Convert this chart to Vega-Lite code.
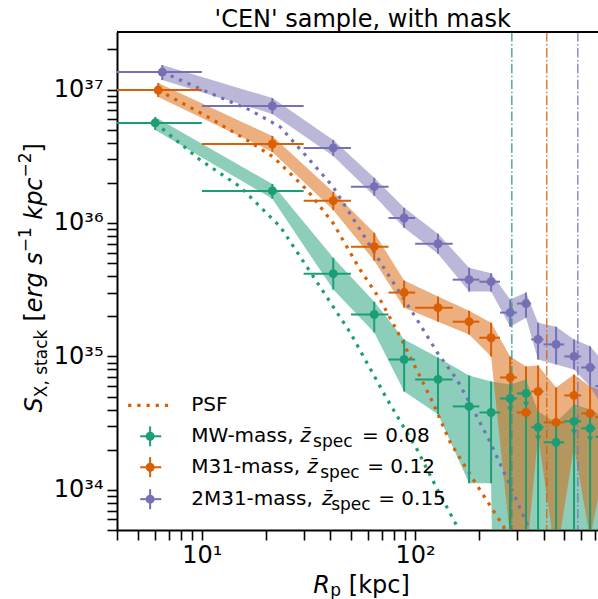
{
  "$schema": "https://vega.github.io/schema/vega-lite/v6.json",
  "width": 481,
  "height": 498,
  "autosize": {"type": "none"},
  "padding": {"left": 117, "top": 32, "right": 0, "bottom": 69},
  "background": "white",
  "config": {
    "view": {"stroke": null},
    "font": "DejaVu Sans",
    "axis": {"grid": false, "domainColor": "black", "tickColor": "black", "domainWidth": 2, "tickWidth": 1.6, "tickSize": 10, "labelFontSize": 24, "labelFont": "DejaVu Sans", "labelColor": "black", "labelOverlap": false, "title": null}
  },
  "datasets": {
    "prof": [
      {"s": "2M31-mass", "x": 6.52, "xlo": 1, "xhi": 10, "y": 1.352e37, "lo": 1.178e37, "hi": 1.525e37, "ul": false},
      {"s": "2M31-mass", "x": 21.4, "xlo": 10, "xhi": 30, "y": 7.53e36, "lo": 6.56e36, "hi": 8.64e36, "ul": false},
      {"s": "2M31-mass", "x": 41.3, "xlo": 30, "xhi": 50, "y": 3.65e36, "lo": 3.18e36, "hi": 4.19e36, "ul": false},
      {"s": "2M31-mass", "x": 64.3, "xlo": 50, "xhi": 75, "y": 1.87e36, "lo": 1.60e36, "hi": 2.18e36, "ul": false},
      {"s": "2M31-mass", "x": 88.8, "xlo": 75, "xhi": 100, "y": 1.09e36, "lo": 9.21e35, "hi": 1.30e36, "ul": false},
      {"s": "2M31-mass", "x": 128, "xlo": 100, "xhi": 150, "y": 6.99e35, "lo": 5.88e35, "hi": 8.30e35, "ul": false},
      {"s": "2M31-mass", "x": 179, "xlo": 150, "xhi": 200, "y": 3.76e35, "lo": 3.06e35, "hi": 4.62e35, "ul": false},
      {"s": "2M31-mass", "x": 227, "xlo": 200, "xhi": 250, "y": 3.63e35, "lo": 3.06e35, "hi": 4.2e35, "ul": false},
      {"s": "2M31-mass", "x": 279, "xlo": 250, "xhi": 300, "y": 2.13e35, "lo": 1.67e35, "hi": 2.67e35, "ul": false},
      {"s": "2M31-mass", "x": 331, "xlo": 300, "xhi": 350, "y": 2.49e35, "lo": 1.95e35, "hi": 3.01e35, "ul": false},
      {"s": "2M31-mass", "x": 377, "xlo": 350, "xhi": 400, "y": 1.34e35, "lo": 9.48e34, "hi": 1.79e35, "ul": false},
      {"s": "2M31-mass", "x": 458, "xlo": 400, "xhi": 500, "y": 1.23e35, "lo": 8.70e34, "hi": 1.67e35, "ul": false},
      {"s": "2M31-mass", "x": 556, "xlo": 500, "xhi": 600, "y": 1.0e35, "lo": 7.98e34, "hi": 1.34e35, "ul": false},
      {"s": "2M31-mass", "x": 661, "xlo": 600, "xhi": 700, "y": 8.26e34, "lo": 5.96e34, "hi": 1.19e35, "ul": false},
      {"s": "2M31-mass", "x": 770, "xlo": 700, "xhi": 800, "y": 6.0e34, "lo": 4.0e34, "hi": 9.0e34, "ul": false},
      {"s": "M31-mass", "x": 6.24, "xlo": 1, "xhi": 10, "y": 9.91e36, "lo": 8.79e36, "hi": 1.118e37, "ul": false},
      {"s": "M31-mass", "x": 21.4, "xlo": 10, "xhi": 30, "y": 3.91e36, "lo": 3.41e36, "hi": 4.49e36, "ul": false},
      {"s": "M31-mass", "x": 41.3, "xlo": 30, "xhi": 50, "y": 1.47e36, "lo": 1.25e36, "hi": 1.71e36, "ul": false},
      {"s": "M31-mass", "x": 64.3, "xlo": 50, "xhi": 75, "y": 6.64e35, "lo": 5.22e35, "hi": 8.45e35, "ul": false},
      {"s": "M31-mass", "x": 88.8, "xlo": 75, "xhi": 100, "y": 3.01e35, "lo": 2.32e35, "hi": 3.70e35, "ul": false},
      {"s": "M31-mass", "x": 128, "xlo": 100, "xhi": 150, "y": 2.32e35, "lo": 1.82e35, "hi": 2.81e35, "ul": false},
      {"s": "M31-mass", "x": 179, "xlo": 150, "xhi": 200, "y": 1.82e35, "lo": 1.46e35, "hi": 2.20e35, "ul": false},
      {"s": "M31-mass", "x": 227, "xlo": 200, "xhi": 250, "y": 1.38e35, "lo": 9.98e34, "hi": 1.79e35, "ul": false},
      {"s": "M31-mass", "x": 279, "xlo": 250, "xhi": 300, "y": 6.95e34, "lo": 4.3e33, "hi": 9.98e34, "ul": false},
      {"s": "M31-mass", "x": 331, "xlo": 300, "xhi": 350, "y": 3.80e34, "lo": 3.0e33, "hi": 8.41e34, "ul": false},
      {"s": "M31-mass", "x": 377, "xlo": 350, "xhi": 400, "y": 5.46e34, "lo": 2.52e34, "hi": 8.55e34, "ul": false},
      {"s": "M31-mass", "x": 458, "xlo": 400, "xhi": 500, "y": 3.20e34, "lo": 3.0e33, "hi": 5.85e34, "ul": false},
      {"s": "M31-mass", "x": 556, "xlo": 500, "xhi": 600, "y": 5.10e34, "lo": 2.12e34, "hi": 7.32e34, "ul": false},
      {"s": "M31-mass", "x": 661, "xlo": 600, "xhi": 700, "y": 3.74e34, "lo": 4.3e33, "hi": 5.96e34, "ul": false},
      {"s": "M31-mass", "x": 770, "xlo": 700, "xhi": 800, "y": 3.5e34, "lo": 1.5e34, "hi": 5.5e34, "ul": false},
      {"s": "MW-mass", "x": 6.04, "xlo": 1, "xhi": 10, "y": 5.62e36, "lo": 4.98e36, "hi": 6.23e36, "ul": false},
      {"s": "MW-mass", "x": 21.4, "xlo": 10, "xhi": 30, "y": 1.74e36, "lo": 1.52e36, "hi": 1.96e36, "ul": false},
      {"s": "MW-mass", "x": 41.3, "xlo": 30, "xhi": 50, "y": 4.17e35, "lo": 3.17e35, "hi": 5.49e35, "ul": false},
      {"s": "MW-mass", "x": 64.3, "xlo": 50, "xhi": 75, "y": 2.06e35, "lo": 1.51e35, "hi": 2.57e35, "ul": false},
      {"s": "MW-mass", "x": 88.8, "xlo": 75, "xhi": 100, "y": 9.48e34, "lo": 5.46e34, "hi": 1.34e35, "ul": false},
      {"s": "MW-mass", "x": 128, "xlo": 100, "xhi": 150, "y": 6.72e34, "lo": 3.68e34, "hi": 9.81e34, "ul": false},
      {"s": "MW-mass", "x": 179, "xlo": 150, "xhi": 200, "y": 4.22e34, "lo": 1.12e34, "hi": 7.20e34, "ul": false},
      {"s": "MW-mass", "x": 227, "xlo": 200, "xhi": 250, "y": 3.80e34, "lo": 1.12e34, "hi": 6.49e34, "ul": false},
      {"s": "MW-mass", "x": 279, "xlo": 250, "xhi": 300, "y": 4.84e34, "lo": 1e25, "hi": 6.16e34, "ul": true},
      {"s": "MW-mass", "x": 331, "xlo": 300, "xhi": 350, "y": 5.28e34, "lo": 1e25, "hi": 6.72e34, "ul": true},
      {"s": "MW-mass", "x": 377, "xlo": 350, "xhi": 400, "y": 2.94e34, "lo": 1e25, "hi": 3.87e34, "ul": true},
      {"s": "MW-mass", "x": 458, "xlo": 400, "xhi": 500, "y": 2.27e34, "lo": 1e25, "hi": 3.20e34, "ul": false},
      {"s": "MW-mass", "x": 556, "xlo": 500, "xhi": 600, "y": 3.26e34, "lo": 1e25, "hi": 4.37e34, "ul": true},
      {"s": "MW-mass", "x": 661, "xlo": 600, "xhi": 700, "y": 2.89e34, "lo": 1e25, "hi": 4.01e34, "ul": true},
      {"s": "MW-mass", "x": 770, "xlo": 700, "xhi": 800, "y": 2.5e34, "lo": 1e25, "hi": 3.5e34, "ul": false}
    ],
    "psf": [
      {"s": "MW-mass", "x": 6.04, "y": 5.62e36},
      {"s": "MW-mass", "x": 9.82, "y": 2.97e36},
      {"s": "MW-mass", "x": 15.1, "y": 1.87e36},
      {"s": "MW-mass", "x": 23.3, "y": 9.4e35},
      {"s": "MW-mass", "x": 32.2, "y": 4.31e35},
      {"s": "MW-mass", "x": 49.6, "y": 1.51e35},
      {"s": "MW-mass", "x": 73.9, "y": 4.77e34},
      {"s": "MW-mass", "x": 102, "y": 2.01e34},
      {"s": "MW-mass", "x": 127, "y": 1.01e34},
      {"s": "MW-mass", "x": 157, "y": 5.35e33},
      {"s": "MW-mass", "x": 175, "y": 3.2e33},
      {"s": "M31-mass", "x": 6.24, "y": 9.91e36},
      {"s": "M31-mass", "x": 10.9, "y": 6.12e36},
      {"s": "M31-mass", "x": 16.8, "y": 4.05e36},
      {"s": "M31-mass", "x": 21.6, "y": 3.13e36},
      {"s": "M31-mass", "x": 31.1, "y": 1.77e36},
      {"s": "M31-mass", "x": 41.2, "y": 1.0e36},
      {"s": "M31-mass", "x": 55.2, "y": 4.47e35},
      {"s": "M31-mass", "x": 68.5, "y": 2.67e35},
      {"s": "M31-mass", "x": 85, "y": 1.41e35},
      {"s": "M31-mass", "x": 121, "y": 4.52e34},
      {"s": "M31-mass", "x": 146, "y": 2.27e34},
      {"s": "M31-mass", "x": 187, "y": 1.2e34},
      {"s": "M31-mass", "x": 259, "y": 5.35e33},
      {"s": "M31-mass", "x": 290, "y": 3.5e33},
      {"s": "2M31-mass", "x": 6.52, "y": 1.352e37},
      {"s": "2M31-mass", "x": 10.9, "y": 9.42e36},
      {"s": "2M31-mass", "x": 16.8, "y": 7.03e36},
      {"s": "2M31-mass", "x": 23.3, "y": 5.25e36},
      {"s": "2M31-mass", "x": 31.1, "y": 3.13e36},
      {"s": "2M31-mass", "x": 41.2, "y": 1.87e36},
      {"s": "2M31-mass", "x": 55.2, "y": 8.9e35},
      {"s": "2M31-mass", "x": 70.8, "y": 4.7e35},
      {"s": "2M31-mass", "x": 102, "y": 1.89e35},
      {"s": "2M31-mass", "x": 127, "y": 1.07e35},
      {"s": "2M31-mass", "x": 157, "y": 6.71e34},
      {"s": "2M31-mass", "x": 187, "y": 4.01e34},
      {"s": "2M31-mass", "x": 225, "y": 2.27e34},
      {"s": "2M31-mass", "x": 270, "y": 1.2e34},
      {"s": "2M31-mass", "x": 335, "y": 5.54e33},
      {"s": "2M31-mass", "x": 360, "y": 4.0e33}
    ],
    "rlim": [
      {"s": "MW-mass", "r": 284},
      {"s": "M31-mass", "r": 414},
      {"s": "2M31-mass", "r": 579}
    ],
    "leg": [
      {"s": "MW-mass", "name": "MW-mass,", "val": "= 0.08"},
      {"s": "M31-mass", "name": "M31-mass,", "val": "= 0.12"},
      {"s": "2M31-mass", "name": "2M31-mass,", "val": "= 0.15"}
    ]
  },
  "encoding": {
    "x": {"type": "quantitative", "scale": {"type": "log", "domain": [4, 720], "nice": false},
      "axis": {"orient": "bottom", "values": [4,5,6,7,8,9,10,20,30,40,50,60,70,80,90,100,200,300,400,500,600,700], "labelExpr": "datum.value == 10 ? '10¹' : datum.value == 100 ? '10²' : ''", "labelPadding": 3}},
    "y": {"type": "quantitative", "scale": {"type": "log", "domain": [5e33, 2.7e37], "nice": false},
      "axis": {"orient": "left", "values": [5e33,6e33,7e33,8e33,9e33,1e34,2e34,3e34,4e34,5e34,6e34,7e34,8e34,9e34,1e35,2e35,3e35,4e35,5e35,6e35,7e35,8e35,9e35,1e36,2e36,3e36,4e36,5e36,6e36,7e36,8e36,9e36,1e37,2e37], "labelExpr": "datum.value == 1e34 ? '10³⁴' : datum.value == 1e35 ? '10³⁵' : datum.value == 1e36 ? '10³⁶' : datum.value == 1e37 ? '10³⁷' : ''", "labelPadding": 4}}
  },
  "layer": [
    {"data": {"name": "prof"}, "transform": [{"filter": "datum.s == 'MW-mass'"}],
     "mark": {"type": "area", "clip": true, "color": "#1b9e77", "opacity": 0.5},
     "encoding": {"x": {"field": "x", "type": "quantitative"}, "y": {"field": "lo", "type": "quantitative"}, "y2": {"field": "hi"}}},
    {"data": {"name": "prof"}, "transform": [{"filter": "datum.s == 'M31-mass'"}],
     "mark": {"type": "area", "clip": true, "color": "#d95f02", "opacity": 0.5},
     "encoding": {"x": {"field": "x", "type": "quantitative"}, "y": {"field": "lo", "type": "quantitative"}, "y2": {"field": "hi"}}},
    {"data": {"name": "prof"}, "transform": [{"filter": "datum.s == '2M31-mass'"}],
     "mark": {"type": "area", "clip": true, "color": "#7570b3", "opacity": 0.5},
     "encoding": {"x": {"field": "x", "type": "quantitative"}, "y": {"field": "lo", "type": "quantitative"}, "y2": {"field": "hi"}}},
    {"data": {"name": "psf"},
     "mark": {"type": "line", "clip": true, "strokeWidth": 3.2, "strokeDash": [3.2, 6]},
     "encoding": {"x": {"field": "x", "type": "quantitative"}, "y": {"field": "y", "type": "quantitative"},
       "color": {"field": "s", "type": "nominal", "scale": {"domain": ["MW-mass", "M31-mass", "2M31-mass"], "range": ["#1b9e77", "#d95f02", "#7570b3"]}, "legend": null}}},
    {"data": {"name": "rlim"},
     "mark": {"type": "rule", "clip": true, "strokeWidth": 1.5, "opacity": 0.8, "strokeDash": [9.6, 2.4, 1.5, 2.4]},
     "encoding": {"x": {"field": "r", "type": "quantitative"},
       "color": {"field": "s", "type": "nominal", "scale": {"domain": ["MW-mass", "M31-mass", "2M31-mass"], "range": ["#1b9e77", "#d95f02", "#7570b3"]}, "legend": null}}},
    {"data": {"values": [{}]},
     "mark": {"type": "rule", "color": "black", "strokeWidth": 2},
     "encoding": {"y": {"datum": 2.7e37}}},
    {"data": {"name": "prof"},
     "mark": {"type": "rule", "clip": true, "strokeWidth": 2},
     "encoding": {"x": {"field": "xlo", "type": "quantitative"}, "x2": {"field": "xhi"}, "y": {"field": "y", "type": "quantitative"},
       "color": {"field": "s", "type": "nominal", "scale": {"domain": ["MW-mass", "M31-mass", "2M31-mass"], "range": ["#1b9e77", "#d95f02", "#7570b3"]}, "legend": null}}},
    {"data": {"name": "prof"},
     "mark": {"type": "rule", "clip": true, "strokeWidth": 2},
     "encoding": {"x": {"field": "x", "type": "quantitative"}, "y": {"field": "lo", "type": "quantitative"}, "y2": {"field": "hi"},
       "color": {"field": "s", "type": "nominal", "scale": {"domain": ["MW-mass", "M31-mass", "2M31-mass"], "range": ["#1b9e77", "#d95f02", "#7570b3"]}, "legend": null}}},
    {"data": {"name": "prof"},
     "mark": {"type": "point", "clip": true, "filled": true, "size": 80, "opacity": 1},
     "encoding": {"x": {"field": "x", "type": "quantitative"}, "y": {"field": "y", "type": "quantitative"},
       "color": {"field": "s", "type": "nominal", "scale": {"domain": ["MW-mass", "M31-mass", "2M31-mass"], "range": ["#1b9e77", "#d95f02", "#7570b3"]}, "legend": null}}},
    {"data": {"name": "prof"}, "transform": [{"filter": "datum.ul"}],
     "mark": {"type": "point", "clip": true, "filled": true, "size": 40, "opacity": 1, "shape": "triangle-down", "yOffset": 11, "color": "#1b9e77"},
     "encoding": {"x": {"field": "x", "type": "quantitative"}, "y": {"field": "y", "type": "quantitative"}}},

    {"data": {"values": [{}]},
     "mark": {"type": "text", "text": "'CEN' sample, with mask", "align": "center", "baseline": "alphabetic", "fontSize": 24, "font": "DejaVu Sans", "color": "black"},
     "encoding": {"x": {"datum": 56.75}, "y": {"datum": 2.959e37}}},

    {"data": {"values": [{}]},
     "mark": {"type": "rule", "color": "#d95f02", "strokeWidth": 3.2, "strokeDash": [3.2, 6]},
     "encoding": {"x": {"datum": 4.51}, "x2": {"datum": 7.26}, "y": {"datum": 4.30e34}}},
    {"data": {"values": [{}]},
     "mark": {"type": "text", "text": "PSF", "align": "left", "baseline": "middle", "fontSize": 20, "font": "DejaVu Sans", "color": "black"},
     "encoding": {"x": {"datum": 8.91}, "y": {"datum": 4.30e34}}},

    {"data": {"values": [{}]}, "mark": {"type": "rule", "color": "#1b9e77", "strokeWidth": 2},
     "encoding": {"x": {"datum": 5.14}, "x2": {"datum": 6.45}, "y": {"datum": 2.52e34}}},
    {"data": {"values": [{}]}, "mark": {"type": "rule", "color": "#1b9e77", "strokeWidth": 2},
     "encoding": {"x": {"datum": 5.72}, "y": {"datum": 2.12e34}, "y2": {"datum": 2.99e34}}},
    {"data": {"values": [{}]}, "mark": {"type": "point", "color": "#1b9e77", "filled": true, "size": 80, "opacity": 1},
     "encoding": {"x": {"datum": 5.72}, "y": {"datum": 2.52e34}}},
    {"data": {"values": [{}]}, "mark": {"type": "rule", "color": "#d95f02", "strokeWidth": 2},
     "encoding": {"x": {"datum": 5.14}, "x2": {"datum": 6.45}, "y": {"datum": 1.476e34}}},
    {"data": {"values": [{}]}, "mark": {"type": "rule", "color": "#d95f02", "strokeWidth": 2},
     "encoding": {"x": {"datum": 5.72}, "y": {"datum": 1.246e34}, "y2": {"datum": 1.758e34}}},
    {"data": {"values": [{}]}, "mark": {"type": "point", "color": "#d95f02", "filled": true, "size": 80, "opacity": 1},
     "encoding": {"x": {"datum": 5.72}, "y": {"datum": 1.476e34}}},
    {"data": {"values": [{}]}, "mark": {"type": "rule", "color": "#7570b3", "strokeWidth": 2},
     "encoding": {"x": {"datum": 5.14}, "x2": {"datum": 6.45}, "y": {"datum": 8.51e33}}},
    {"data": {"values": [{}]}, "mark": {"type": "rule", "color": "#7570b3", "strokeWidth": 2},
     "encoding": {"x": {"datum": 5.72}, "y": {"datum": 7.16e33}, "y2": {"datum": 1.011e34}}},
    {"data": {"values": [{}]}, "mark": {"type": "point", "color": "#7570b3", "filled": true, "size": 80, "opacity": 1},
     "encoding": {"x": {"datum": 5.72}, "y": {"datum": 8.51e33}}},

    {"data": {"name": "leg"}, "transform": [{"filter": "datum.s == 'MW-mass'"}],
     "mark": {"type": "text", "align": "left", "baseline": "middle", "fontSize": 20, "font": "DejaVu Sans", "color": "black"},
     "encoding": {"x": {"datum": 8.91}, "y": {"datum": 2.52e34}, "text": {"field": "name"}}},
    {"data": {"values": [{}]},
     "mark": {"type": "text", "text": "z̄", "align": "left", "baseline": "middle", "fontSize": 20, "fontStyle": "italic", "font": "DejaVu Sans", "color": "black"},
     "encoding": {"x": {"datum": 28.9}, "y": {"datum": 2.52e34}}},
    {"data": {"values": [{}]},
     "mark": {"type": "text", "text": "spec", "align": "left", "baseline": "middle", "fontSize": 17, "dy": 6, "font": "DejaVu Sans", "color": "black"},
     "encoding": {"x": {"datum": 33.2}, "y": {"datum": 2.52e34}}},
    {"data": {"name": "leg"}, "transform": [{"filter": "datum.s == 'MW-mass'"}],
     "mark": {"type": "text", "align": "left", "baseline": "middle", "fontSize": 20, "font": "DejaVu Sans", "color": "black"},
     "encoding": {"x": {"datum": 56.4}, "y": {"datum": 2.52e34}, "text": {"field": "val"}}},

    {"data": {"name": "leg"}, "transform": [{"filter": "datum.s == 'M31-mass'"}],
     "mark": {"type": "text", "align": "left", "baseline": "middle", "fontSize": 20, "font": "DejaVu Sans", "color": "black"},
     "encoding": {"x": {"datum": 8.91}, "y": {"datum": 1.476e34}, "text": {"field": "name"}}},
    {"data": {"values": [{}]},
     "mark": {"type": "text", "text": "z̄", "align": "left", "baseline": "middle", "fontSize": 20, "fontStyle": "italic", "font": "DejaVu Sans", "color": "black"},
     "encoding": {"x": {"datum": 31.2}, "y": {"datum": 1.476e34}}},
    {"data": {"values": [{}]},
     "mark": {"type": "text", "text": "spec", "align": "left", "baseline": "middle", "fontSize": 17, "dy": 6, "font": "DejaVu Sans", "color": "black"},
     "encoding": {"x": {"datum": 35.9}, "y": {"datum": 1.476e34}}},
    {"data": {"name": "leg"}, "transform": [{"filter": "datum.s == 'M31-mass'"}],
     "mark": {"type": "text", "align": "left", "baseline": "middle", "fontSize": 20, "font": "DejaVu Sans", "color": "black"},
     "encoding": {"x": {"datum": 59.6}, "y": {"datum": 1.476e34}, "text": {"field": "val"}}},

    {"data": {"name": "leg"}, "transform": [{"filter": "datum.s == '2M31-mass'"}],
     "mark": {"type": "text", "align": "left", "baseline": "middle", "fontSize": 20, "font": "DejaVu Sans", "color": "black"},
     "encoding": {"x": {"datum": 8.91}, "y": {"datum": 8.51e33}, "text": {"field": "name"}}},
    {"data": {"values": [{}]},
     "mark": {"type": "text", "text": "z̄", "align": "left", "baseline": "middle", "fontSize": 20, "fontStyle": "italic", "font": "DejaVu Sans", "color": "black"},
     "encoding": {"x": {"datum": 36.6}, "y": {"datum": 8.51e33}}},
    {"data": {"values": [{}]},
     "mark": {"type": "text", "text": "spec", "align": "left", "baseline": "middle", "fontSize": 17, "dy": 6, "font": "DejaVu Sans", "color": "black"},
     "encoding": {"x": {"datum": 40.4}, "y": {"datum": 8.51e33}}},
    {"data": {"name": "leg"}, "transform": [{"filter": "datum.s == '2M31-mass'"}],
     "mark": {"type": "text", "align": "left", "baseline": "middle", "fontSize": 20, "font": "DejaVu Sans", "color": "black"},
     "encoding": {"x": {"datum": 67.1}, "y": {"datum": 8.51e33}, "text": {"field": "val"}}},

    {"data": {"values": [{}]},
     "mark": {"type": "text", "text": "S", "angle": 270, "align": "left", "baseline": "middle", "fontSize": 24, "fontStyle": "italic", "font": "DejaVu Sans", "color": "black"},
     "encoding": {"x": {"datum": 1.654}, "y": {"datum": 3.805e34}}},
    {"data": {"values": [{}]},
     "mark": {"type": "text", "text": "X, stack", "angle": 270, "align": "left", "baseline": "middle", "fontSize": 17, "dy": 7, "font": "DejaVu Sans", "color": "black"},
     "encoding": {"x": {"datum": 1.654}, "y": {"datum": 4.945e34}}},
    {"data": {"values": [{}]},
     "mark": {"type": "text", "text": "[", "angle": 270, "align": "left", "baseline": "middle", "fontSize": 24, "font": "DejaVu Sans", "color": "black"},
     "encoding": {"x": {"datum": 1.654}, "y": {"datum": 1.824e35}}},
    {"data": {"values": [{}]},
     "mark": {"type": "text", "text": "erg", "angle": 270, "align": "left", "baseline": "middle", "fontSize": 24, "fontStyle": "italic", "font": "DejaVu Sans", "color": "black"},
     "encoding": {"x": {"datum": 1.654}, "y": {"datum": 2.145e35}}},
    {"data": {"values": [{}]},
     "mark": {"type": "text", "text": "s", "angle": 270, "align": "left", "baseline": "middle", "fontSize": 24, "fontStyle": "italic", "font": "DejaVu Sans", "color": "black"},
     "encoding": {"x": {"datum": 1.654}, "y": {"datum": 4.86e35}}},
    {"data": {"values": [{}]},
     "mark": {"type": "text", "text": "−1", "angle": 270, "align": "left", "baseline": "middle", "fontSize": 17, "dy": -9, "font": "DejaVu Sans", "color": "black"},
     "encoding": {"x": {"datum": 1.654}, "y": {"datum": 6.03e35}}},
    {"data": {"values": [{}]},
     "mark": {"type": "text", "text": "kpc", "angle": 270, "align": "left", "baseline": "middle", "fontSize": 24, "fontStyle": "italic", "font": "DejaVu Sans", "color": "black"},
     "encoding": {"x": {"datum": 1.654}, "y": {"datum": 1.057e36}}},
    {"data": {"values": [{}]},
     "mark": {"type": "text", "text": "−2", "angle": 270, "align": "left", "baseline": "middle", "fontSize": 17, "dy": -9, "font": "DejaVu Sans", "color": "black"},
     "encoding": {"x": {"datum": 1.654}, "y": {"datum": 2.194e36}}},
    {"data": {"values": [{}]},
     "mark": {"type": "text", "text": "]", "angle": 270, "align": "left", "baseline": "middle", "fontSize": 24, "font": "DejaVu Sans", "color": "black"},
     "encoding": {"x": {"datum": 1.654}, "y": {"datum": 3.373e36}}},

    {"data": {"values": [{}]},
     "mark": {"type": "text", "text": "R", "align": "left", "baseline": "alphabetic", "fontSize": 24, "fontStyle": "italic", "font": "DejaVu Sans", "color": "black"},
     "encoding": {"x": {"datum": 33.25}, "y": {"datum": 1.685e33}}},
    {"data": {"values": [{}]},
     "mark": {"type": "text", "text": "p", "align": "left", "baseline": "alphabetic", "fontSize": 17, "dy": 3, "font": "DejaVu Sans", "color": "black"},
     "encoding": {"x": {"datum": 39.95}, "y": {"datum": 1.685e33}}},
    {"data": {"values": [{}]},
     "mark": {"type": "text", "text": "[kpc]", "align": "left", "baseline": "alphabetic", "fontSize": 24, "font": "DejaVu Sans", "color": "black"},
     "encoding": {"x": {"datum": 48.84}, "y": {"datum": 1.685e33}}}
  ]
}
